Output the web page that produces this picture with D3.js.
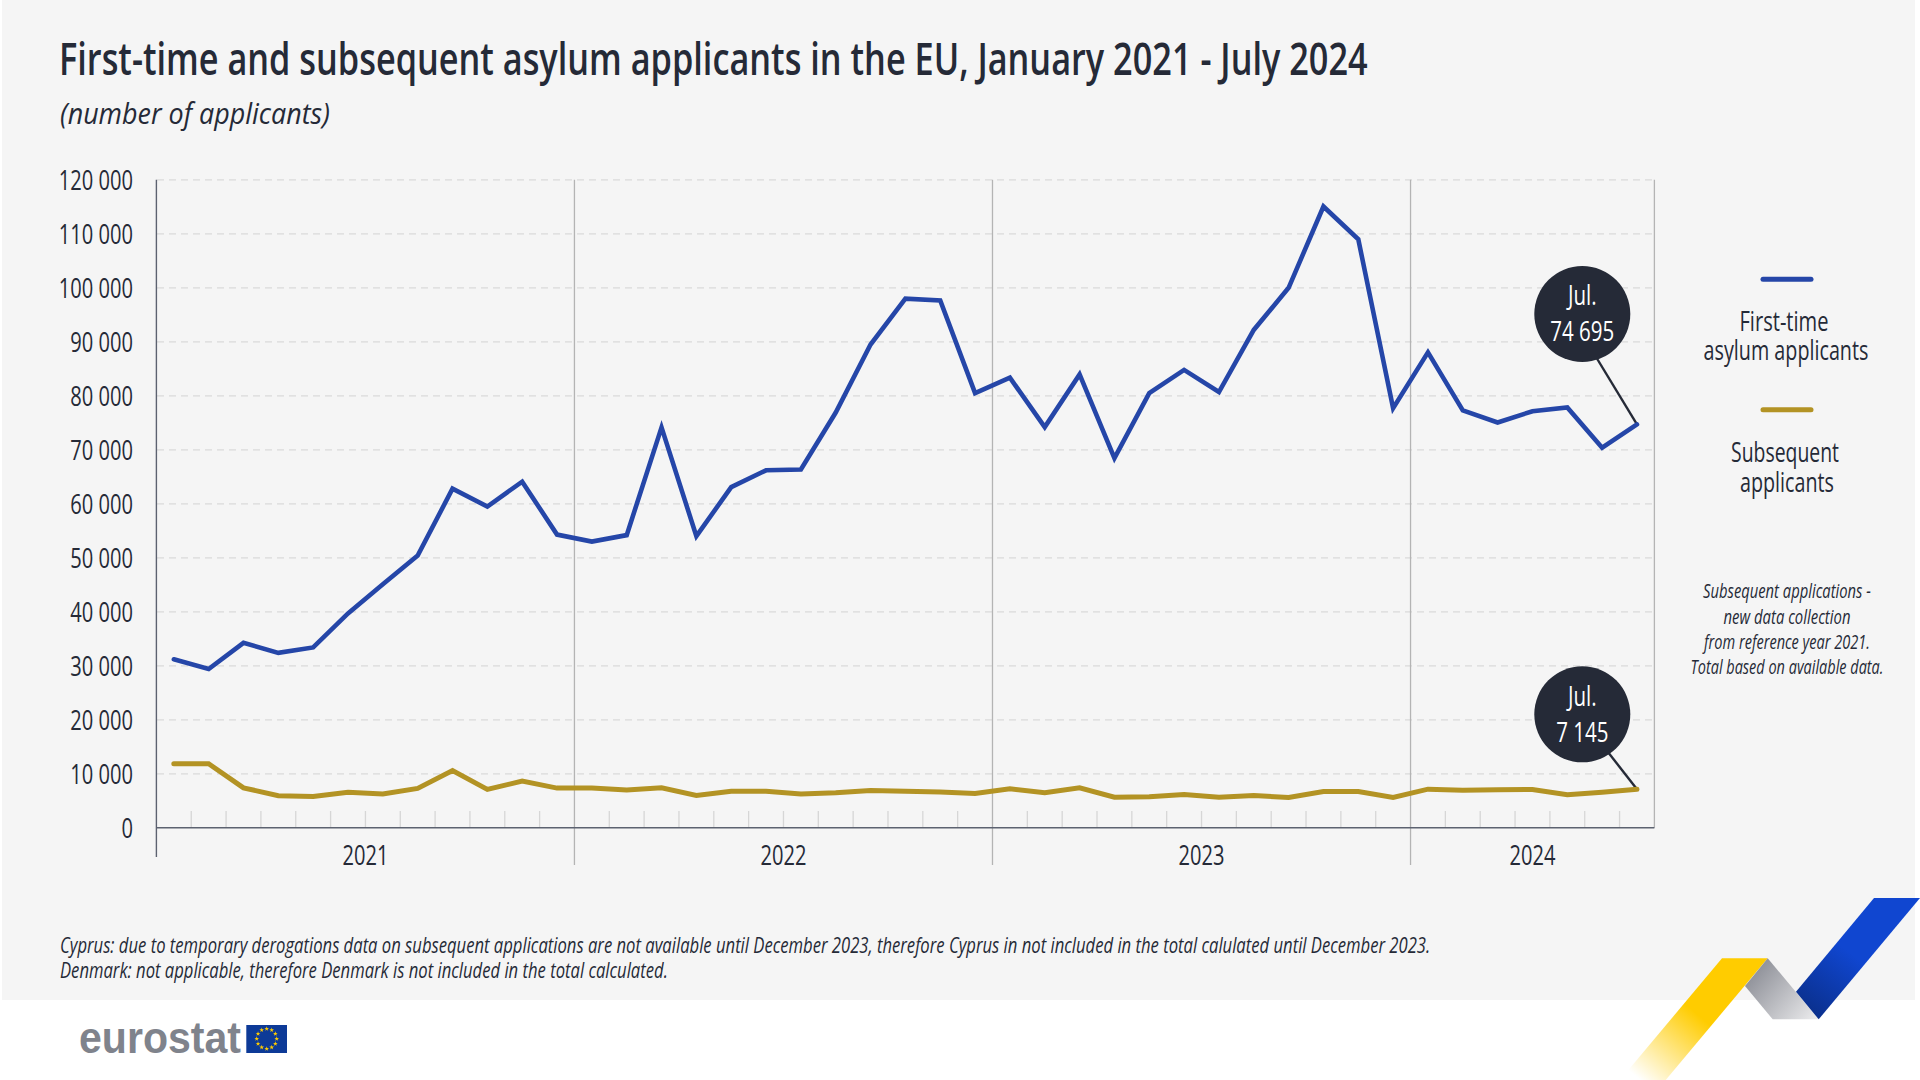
<!DOCTYPE html>
<html>
<head>
<meta charset="utf-8">
<script src="https://cdn.jsdelivr.net/npm/d3@7"></script>
<style>
  html, body { margin: 0; padding: 0; background: #fff; }
  svg { display: block; }
  text { font-family: "Open Sans", sans-serif; fill: #252a37; }
</style>
</head>
<body>
<script>
var width = 1920,
    height = 1080;

var textColor = "#252a37";

// chart values
var years = ["2021", "2022", "2023", "2024"];
var monthsPerYear = [12, 12, 12, 7];

var firstTime = [
  31200, 29400, 34260, 32400, 33400, 39700, 45100, 50400, 62800, 59500, 64100, 54300,
  53000, 54200, 74150, 54000, 63100, 66200, 66350, 76900, 89500, 98000, 97650, 80500,
  83350, 74200, 83950, 68450, 80500, 84800, 80700, 92200, 100000, 115050, 109000, 77700,
  88050, 77300, 75050, 77150, 77850, 70400, 74695
];
var subsequent = [
  11850, 11850, 7400, 5950, 5800, 6600, 6250, 7300, 10600, 7100, 8650, 7350,
  7350, 7000, 7400, 5980, 6780, 6780, 6250, 6480, 6900, 6780, 6650, 6350,
  7220, 6480, 7400, 5680, 5750, 6170, 5680, 5980, 5620, 6720, 6720, 5620,
  7150, 6960, 7040, 7090, 6110, 6600, 7145
];

var yTicks = [0, 10000, 20000, 30000, 40000, 50000, 60000, 70000, 80000, 90000, 100000, 110000, 120000];

var calloutMonth = "Jul.";
var footnotes = [
  "Cyprus: due to temporary derogations data on subsequent applications are not available until December 2023, therefore Cyprus in not included in the total calulated until December 2023.",
  "Denmark: not applicable, therefore Denmark is not included in the total calculated."
];
var sideNote = [
  "Subsequent applications -",
  "new data collection",
  "from reference year 2021.",
  "Total based on available data."
];

// one key per month, grouped by year
var months = [];
years.forEach(function(y, i) {
  d3.range(monthsPerYear[i]).forEach(function(m) { months.push(y + "-" + m); });
});

var svg = d3.select("body").append("svg")
    .attr("width", width)
    .attr("height", height);

// the condensed look of the original: squeeze a wide font horizontally around its x
function squeeze(sel, ratio) {
  sel.each(function() {
    var t = d3.select(this);
    var px = +t.attr("x") || 0;
    t.attr("transform", "translate(" + (px * (1 - ratio)) + ",0) scale(" + ratio + ",1)");
  });
  return sel;
}

function label(parent, str, x, y, size, opts) {
  opts = opts || {};
  var t = parent.append("text")
    .attr("x", x)
    .attr("y", y)
    .attr("font-size", size)
    .attr("font-weight", opts.weight || 400)
    .attr("font-style", opts.italic ? "italic" : "normal")
    .attr("text-anchor", opts.anchor || "start")
    .style("fill", opts.fill || textColor)
    .text(str);
  if (opts.family) t.style("font-family", opts.family);
  var ratio = opts.ratio || 0.74;
  if (opts.fitWidth) ratio = opts.fitWidth / t.node().getComputedTextLength();
  return t.call(squeeze, ratio);
}

// background panel
svg.append("rect")
    .attr("x", 2)
    .attr("y", 0)
    .attr("width", 1913)
    .attr("height", 1000)
    .attr("fill", "#f5f5f5");

// title
label(svg, "First-time and subsequent asylum applicants in the EU, January 2021 - July 2024", 59, 75, 45, {weight: 600, fitWidth: 1309});
label(svg, "(number of applicants)", 60, 124, 30, {italic: true, fitWidth: 270});

// scales
var x = d3.scaleBand().domain(months).range([156.4, 1654.4]);
var y = d3.scaleLinear().domain([0, 120000]).range([827.8, 179.8]);
var cx = function(m) { return x(m) + x.bandwidth() / 2; };

var locale = d3.formatLocale({decimal: ".", thousands: " ", grouping: [3], currency: ["", ""]});
var fmt = locale.format(",d");

// y axis with dashed grid
var yAxis = svg.append("g")
    .attr("transform", "translate(156,0)")
    .call(d3.axisLeft(y).tickValues(yTicks).tickFormat(fmt).tickSize(0).tickPadding(23));
yAxis.select(".domain").remove();
yAxis.selectAll("text")
    .attr("font-size", 27)
    .attr("font-family", null)
    .attr("dy", null)
    .attr("y", 10)
    .call(squeeze, 0.745);

svg.append("g").selectAll("line")
    .data(yTicks.filter(function(d) { return d > 0; }))
    .join("line")
    .attr("x1", 157)
    .attr("x2", 1654)
    .attr("y1", function(d) { return y(d); })
    .attr("y2", function(d) { return y(d); })
    .attr("stroke", "#dadada")
    .attr("stroke-width", 1.3)
    .attr("stroke-dasharray", "7 5");

// small month ticks
svg.append("g").selectAll("line")
    .data(months.filter(function(m) { return !/-0$/.test(m); }))
    .join("line")
    .attr("x1", function(m) { return x(m); })
    .attr("x2", function(m) { return x(m); })
    .attr("y1", 811)
    .attr("y2", y(0))
    .attr("stroke", "#d6d6d6")
    .attr("stroke-width", 1.3);

// year separators, skipping the first one which is the axis
svg.append("g").selectAll("line")
    .data(years.slice(1))
    .join("line")
    .attr("x1", function(d) { return x(d + "-0"); })
    .attr("x2", function(d) { return x(d + "-0"); })
    .attr("y1", y(120000))
    .attr("y2", 865)
    .attr("stroke", "#b4b4b4")
    .attr("stroke-width", 1.3);

svg.append("line")
    .attr("x1", 1654.4).attr("x2", 1654.4)
    .attr("y1", y(120000)).attr("y2", y(0))
    .attr("stroke", "#b4b4b4")
    .attr("stroke-width", 1.3);

svg.append("line")
    .attr("x1", 156.4).attr("x2", 156.4)
    .attr("y1", y(120000)).attr("y2", 857)
    .attr("stroke", "#5c6270")
    .attr("stroke-width", 1.4);

svg.append("line")
    .attr("x1", 156.4).attr("x2", 1654.4)
    .attr("y1", y(0)).attr("y2", y(0))
    .attr("stroke", "#5c6270")
    .attr("stroke-width", 1.6);

// year labels in the middle of their months
years.forEach(function(yr, i) {
  var first = x(yr + "-0");
  var last = x(yr + "-" + (monthsPerYear[i] - 1)) + x.bandwidth();
  label(svg, yr, (first + last) / 2, 865, 27, {anchor: "middle", ratio: 0.745});
});

// callouts go under the lines
var lastMonth = months[months.length - 1];
var callouts = [
  {value: firstTime[firstTime.length - 1], cy: 314, start: [1599, 360]},
  {value: subsequent[subsequent.length - 1], cy: 714.3, start: [1610, 755]}
];

svg.append("g").selectAll("line")
    .data(callouts)
    .join("line")
    .attr("x1", function(d) { return d.start[0] - 6; })
    .attr("y1", function(d) { return d.start[1] - 8; })
    .attr("x2", cx(lastMonth))
    .attr("y2", function(d) { return y(d.value); })
    .attr("stroke", textColor)
    .attr("stroke-width", 2.4);

// series
var line = d3.line()
    .x(function(d, i) { return cx(months[i]); })
    .y(function(d) { return y(d); });

svg.append("path")
    .datum(subsequent)
    .attr("fill", "none")
    .attr("stroke", "#b39324")
    .attr("stroke-width", 5)
    .attr("stroke-linecap", "round")
    .attr("d", line);

svg.append("path")
    .datum(firstTime)
    .attr("fill", "none")
    .attr("stroke", "#2546a8")
    .attr("stroke-width", 4.6)
    .attr("stroke-linecap", "round")
    .attr("d", line);

callouts.forEach(function(c) {
  svg.append("circle")
    .attr("cx", 1582.3)
    .attr("cy", c.cy)
    .attr("r", 48)
    .attr("fill", textColor);
  label(svg, calloutMonth, 1582.3, c.cy - 8.5, 27, {anchor: "middle", fill: "#fff", ratio: 0.76});
  label(svg, fmt(c.value), 1582.3, c.cy + 27.5, 27, {anchor: "middle", fill: "#fff", ratio: 0.76});
});

// legend
svg.append("line")
    .attr("x1", 1763).attr("x2", 1811)
    .attr("y1", 279.3).attr("y2", 279.3)
    .attr("stroke", "#2546a8")
    .attr("stroke-width", 5)
    .attr("stroke-linecap", "round");
label(svg, "First-time", 1784, 330.7, 27, {anchor: "middle", fitWidth: 89});
label(svg, "asylum applicants", 1786, 360, 27, {anchor: "middle", fitWidth: 165});

svg.append("line")
    .attr("x1", 1763).attr("x2", 1811)
    .attr("y1", 409.7).attr("y2", 409.7)
    .attr("stroke", "#b39324")
    .attr("stroke-width", 5)
    .attr("stroke-linecap", "round");
label(svg, "Subsequent", 1785, 461.7, 27, {anchor: "middle", fitWidth: 108});
label(svg, "applicants", 1787, 491.7, 27, {anchor: "middle", fitWidth: 94});

var sideWidths = [168, 127, 166, 193];
sideNote.forEach(function(t, i) {
  label(svg, t, 1787, [598, 624, 648.7, 674][i], 19.5, {anchor: "middle", italic: true, fitWidth: sideWidths[i]});
});

// footnotes
var footWidths = [1371, 608];
footnotes.forEach(function(t, i) {
  label(svg, t, 60, 952.7 + i * 25, 21, {italic: true, fitWidth: footWidths[i]});
});

// eurostat logo
label(svg, "eurostat", 79, 1052.7, 44, {weight: 700, fill: "#7f838c", family: "'Liberation Sans', sans-serif", fitWidth: 162});
svg.append("rect")
    .attr("x", 246.3)
    .attr("y", 1025)
    .attr("width", 40.7)
    .attr("height", 28)
    .attr("fill", "#0d3a97");
svg.append("g").selectAll("path")
    .data(d3.range(12))
    .join("path")
    .attr("d", d3.symbol().type(d3.symbolStar).size(7))
    .attr("transform", function(i) {
      var a = i * Math.PI / 6;
      return "translate(" + (266.7 + 10 * Math.sin(a)) + "," + (1038.7 - 10 * Math.cos(a)) + ")";
    })
    .attr("fill", "#ffcc00");

// ribbon in the corner
var defs = svg.append("defs");
function gradient(id, x1, y1, x2, y2, stops) {
  var g = defs.append("linearGradient")
    .attr("id", id)
    .attr("gradientUnits", "userSpaceOnUse")
    .attr("x1", x1).attr("y1", y1)
    .attr("x2", x2).attr("y2", y2);
  stops.forEach(function(s) {
    g.append("stop")
      .attr("offset", s[0])
      .attr("stop-color", s[1])
      .attr("stop-opacity", s[2] === undefined ? 1 : s[2]);
  });
}
gradient("ribbonYellow", 1735, 970, 1640, 1080, [[0, "#ffcc00"], [0.4, "#ffcc00"], [1, "#ffcc00", 0]]);
gradient("ribbonGray", 1750, 975, 1815, 1030, [[0, "#8f9199"], [1, "#f2f2f3"]]);
gradient("ribbonBlue", 1860, 960, 1815, 1020, [[0, "#1046d0"], [1, "#0a2f8a"]]);

var ribbon = [
  {fill: "url(#ribbonYellow)", pts: [[1722, 958.3], [1767.7, 958.3], [1665.7, 1080], [1620, 1080]]},
  {fill: "url(#ribbonGray)", pts: [[1767.7, 958.3], [1818.7, 1019.3], [1772.7, 1019.3], [1745, 986]]},
  {fill: "url(#ribbonBlue)", pts: [[1874, 898], [1920, 898], [1818.7, 1019.3], [1796, 991.7]]}
];
svg.append("g").selectAll("polygon")
    .data(ribbon)
    .join("polygon")
    .attr("points", function(d) { return d.pts.join(" "); })
    .attr("fill", function(d) { return d.fill; });
</script>
</body>
</html>
